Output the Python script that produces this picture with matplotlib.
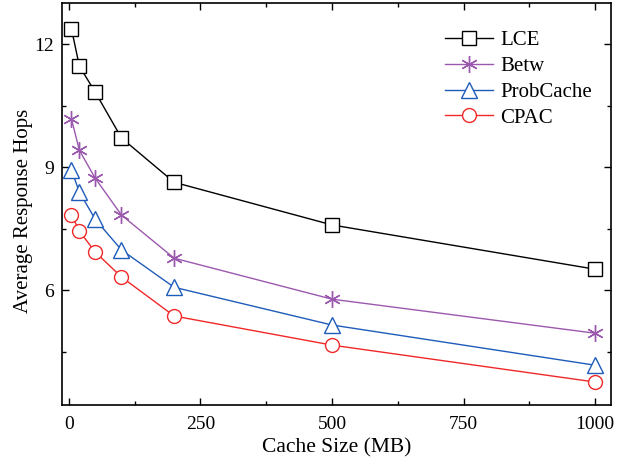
import matplotlib
matplotlib.use('Agg')
from matplotlib import pyplot as plt
from matplotlib.ticker import MultipleLocator

plt.rcParams['font.family'] = ['Liberation Serif', 'DejaVu Serif']

# data
cache_mb = [5, 20, 50, 100, 200, 500, 1000]
lce = [12.37, 11.46, 10.83, 9.71, 8.63, 7.59, 6.51]
betw = [10.17, 9.41, 8.73, 7.83, 6.78, 5.78, 4.95]
probcache = [8.93, 8.39, 7.73, 6.98, 6.07, 5.15, 4.17]
cpac = [7.83, 7.44, 6.93, 6.32, 5.37, 4.66, 3.76]

fig = plt.figure(figsize=(6.22, 4.58), dpi=100)
ax = fig.add_axes([0.0997, 0.1157, 0.8826, 0.8777])

ax.plot(cache_mb, lce, color='black', lw=1.0, marker='s', ms=10,
        mfc='white', mec='black', mew=1.0, label='LCE')
ax.plot(cache_mb, betw, color='#9B59AE', lw=1.0, marker=(6, 2, 0), ms=12,
        mec='#9B59AE', mew=1.0, label='Betw')
ax.plot(cache_mb, probcache, color='#1F5BBA', lw=1.0, marker='^', ms=12,
        mfc='white', mec='#1F5BBA', mew=1.0, label='ProbCache')
ax.plot(cache_mb, cpac, color='#F02828', lw=1.0, marker='o', ms=10,
        mfc='white', mec='#F02828', mew=1.0, label='CPAC')

ax.set_xlim(-13, 1030)
ax.set_ylim(3.2, 13.0)
ax.xaxis.set_major_locator(MultipleLocator(250))
ax.xaxis.set_minor_locator(MultipleLocator(125))
ax.yaxis.set_major_locator(MultipleLocator(3))
ax.yaxis.set_minor_locator(MultipleLocator(1.5))
ax.tick_params(which='both', direction='in', top=True, right=True,
               labelsize=14, width=1.0)
ax.tick_params(which='major', length=5, pad=6)
ax.tick_params(axis='x', which='major', pad=8)
ax.tick_params(which='minor', length=3)
for s in ax.spines.values():
    s.set_linewidth(1.2)

ax.set_xlabel('Cache Size (MB)', fontsize=15.5, labelpad=4)
ax.set_ylabel('Average Response Hops', fontsize=15)
ax.yaxis.set_label_coords(-0.052, 0.483)

ax.legend(loc='upper right', frameon=False, fontsize=15, handlelength=2.3,
          borderaxespad=0.5, labelspacing=0.3, handletextpad=0.35,
          bbox_to_anchor=(1.0, 0.978))

fig.savefig('out.png', dpi=100)
